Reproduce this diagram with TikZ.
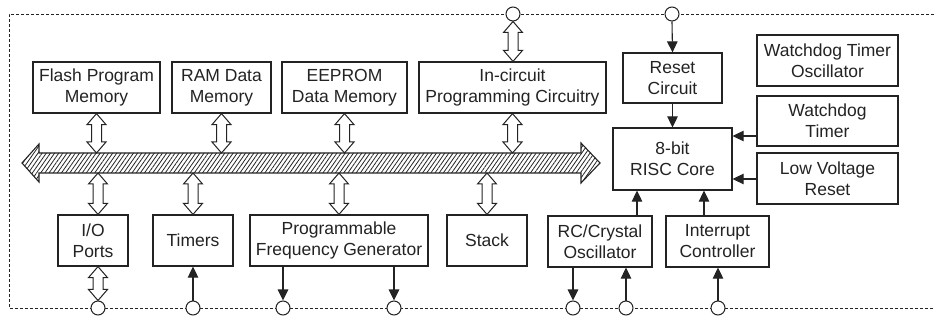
\documentclass[tikz,border=0pt]{standalone}
\usepackage{fontspec}
\setmainfont{Liberation Sans}
\usetikzlibrary{arrows.meta,patterns.meta,calc}
\definecolor{ink}{RGB}{35,35,35}
\tikzset{
  box/.style={draw=ink, line width=1.2pt, fill=white, align=center, text=ink, inner sep=0pt,
    font=\fontsize{17.5}{21}\selectfont},
  port/.style={circle, draw=ink, line width=1pt, fill=white, minimum size=14pt, inner sep=0pt},
  sig/.style={draw=ink, line width=1.1pt, -{Triangle[length=11pt,width=10.5pt]}},
  frame/.style={draw=ink, line width=0.8pt, dash pattern=on 3pt off 2pt},
  hol/.style={draw=ink, line width=1pt, fill=white, line join=miter},
  busstyle/.style={draw=ink, line width=1.1pt, line join=miter,
    pattern={Lines[angle=55,distance=3.4pt,line width=0.8pt]}, pattern color=ink},
}
\newcommand\hollowarrow[2]{%
  \draw[hol] let \p1=(#1), \p2=(#2) in
    (\x1,\y1) -- ++(9.5pt,-11pt) -- ++(-4.5pt,0pt) -- (\x1+5pt,\y2+11pt) -- ++(4.5pt,0pt)
    -- (\x1,\y2) -- ++(-9.5pt,11pt) -- ++(4.5pt,0pt) -- (\x1-5pt,\y1-11pt) -- ++(-4.5pt,0pt) -- cycle;}
\begin{document}
\begin{tikzpicture}[x=1pt,y=-1pt]
\useasboundingbox (0,0) rectangle (934,320);
% frame
\draw[frame] (934,14) -- (9,14) -- (9,308) -- (934,308);
% ports
\node[port] (ct1) at (513,14) {};
\node[port] (ct2) at (672,14) {};
\node[port] (cb1) at (98,308) {};
\node[port] (cb2) at (193,308) {};
\node[port] (cb3) at (283,308) {};
\node[port] (cb4) at (394,308) {};
\node[port] (cb5) at (573,308) {};
\node[port] (cb6) at (626,308) {};
\node[port] (cb7) at (718,308) {};
% boxes
\node[box, minimum width=127pt, minimum height=51pt] (flash) at (96.5,87.5) {Flash Program\\Memory};
\node[box, minimum width=99pt, minimum height=51pt] (ram) at (221.5,87.5) {RAM Data\\Memory};
\node[box, minimum width=125pt, minimum height=51pt] (eeprom) at (344.5,87.5) {EEPROM\\Data Memory};
\node[box, minimum width=187pt, minimum height=51pt] (icsp) at (512.5,87.5) {In-circuit\\Programming Circuitry};
\node[box, minimum width=99pt, minimum height=50pt] (reset) at (672.5,78) {Reset\\Circuit};
\node[box, minimum width=141pt, minimum height=51pt] (wdto) at (827.5,60.5) {Watchdog Timer\\Oscillator};
\node[box, minimum width=141pt, minimum height=50pt] (wdt) at (827.5,121) {Watchdog\\Timer};
\node[box, minimum width=141pt, minimum height=51pt] (lvr) at (827.5,178.5) {Low Voltage\\Reset};
\node[box, minimum width=119pt, minimum height=62pt] (risc) at (672.5,159) {8-bit\\RISC Core};
\node[box, minimum width=70pt, minimum height=51pt] (io) at (93,240.5) {I/O\\Ports};
\node[box, minimum width=80pt, minimum height=51pt] (timers) at (193,240.5) {Timers};
\node[box, minimum width=178pt, minimum height=51pt] (pfg) at (339,240.5) {Programmable\\Frequency Generator};
\node[box, minimum width=80pt, minimum height=51pt] (stack) at (487,240.5) {Stack};
\node[box, minimum width=104pt, minimum height=51pt] (rc) at (600,241.5) {RC/Crystal\\Oscillator};
\node[box, minimum width=103pt, minimum height=51pt] (intc) at (717.5,241.5) {Interrupt\\Controller};
% bus
\coordinate (bustop) at (0,153);
\coordinate (busbot) at (0,173);
\draw[busstyle] (22,163) -- (39,144) -- (39,153) -- (581,153) -- (581,143) -- (600,163)
  -- (581,183) -- (581,173) -- (39,173) -- (39,182) -- cycle;
% hollow bus connectors
\hollowarrow{flash.south}{flash.south |- bustop}
\hollowarrow{ram.south}{ram.south |- bustop}
\hollowarrow{eeprom.south}{eeprom.south |- bustop}
\hollowarrow{icsp.south}{icsp.south |- bustop}
\hollowarrow{ct1.south}{icsp.north}
\hollowarrow{cb1 |- busbot}{cb1 |- io.north}
\hollowarrow{cb1 |- io.south}{cb1.north}
\hollowarrow{timers.north |- busbot}{timers.north}
\hollowarrow{pfg.north |- busbot}{pfg.north}
\hollowarrow{stack.north |- busbot}{stack.north}
% signal arrows
\coordinate (wy) at (0,136);
\coordinate (ly) at (0,179);
\coordinate (rcx) at (637,0);
\coordinate (icx) at (704,0);
\draw[sig] (ct2.south) -- (reset.north);
\draw[sig] (reset.south) -- (risc.north);
\draw[sig] (wdt.west |- wy) -- (risc.east |- wy);
\draw[sig] (lvr.west |- ly) -- (risc.east |- ly);
\draw[sig] (rc.north -| rcx) -- (risc.south -| rcx);
\draw[sig] (intc.north -| icx) -- (risc.south -| icx);
\draw[sig] (cb2.north) -- (timers.south);
\draw[sig] (pfg.south -| cb3) -- (cb3.north);
\draw[sig] (pfg.south -| cb4) -- (cb4.north);
\draw[sig] (rc.south -| cb5) -- (cb5.north);
\draw[sig] (cb6.north) -- (rc.south -| cb6);
\draw[sig] (cb7.north) -- (intc.south -| cb7);
\end{tikzpicture}
\end{document}
